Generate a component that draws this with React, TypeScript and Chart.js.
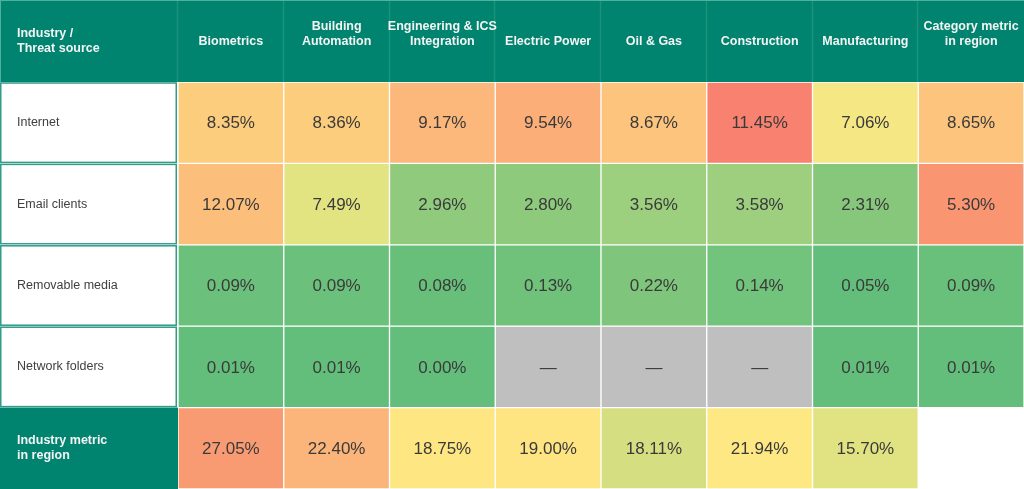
import React, { useEffect, useRef } from "react";
import { Chart, registerables } from "chart.js";

Chart.register(...registerables);

// ---- data ----
const columnLabels: (string | string[])[] = [
  "Biometrics",
  ["Building", "Automation"],
  ["Engineering & ICS", "Integration"],
  "Electric Power",
  "Oil & Gas",
  "Construction",
  "Manufacturing",
  ["Category metric", "in region"],
];
const rowLabels: (string | string[])[] = [
  "Internet",
  "Email clients",
  "Removable media",
  "Network folders",
  ["Industry metric", "in region"],
];
const cornerLabel = ["Industry /", "Threat source"];

const internet = [8.35, 8.36, 9.17, 9.54, 8.67, 11.45, 7.06, 8.65];
const emailClients = [12.07, 7.49, 2.96, 2.8, 3.56, 3.58, 2.31, 5.3];
const removableMedia = [0.09, 0.09, 0.08, 0.13, 0.22, 0.14, 0.05, 0.09];
const networkFolders: (number | null)[] = [0.01, 0.01, 0.0, null, null, null, 0.01, 0.01];
const industryMetric: (number | null)[] = [27.05, 22.4, 18.75, 19.0, 18.11, 21.94, 15.7, null];

const rows: (number | null)[][] = [internet, emailClients, removableMedia, networkFolders, industryMetric];
// which cells are drawn (the footer's last cell is empty)
const cellPresent: boolean[][] = [
  [true, true, true, true, true, true, true, true],
  [true, true, true, true, true, true, true, true],
  [true, true, true, true, true, true, true, true],
  [true, true, true, true, true, true, true, true],
  [true, true, true, true, true, true, true, false],
];

// ---- styles ----
const cellColors: string[][] = [
  ["#FDCD7E", "#FDCD7E", "#FCB77A", "#FBAE78", "#FDC47D", "#F8816F", "#F5E784", "#FCC47D"],
  ["#FCBE7B", "#E2E482", "#90CB7D", "#8DCA7C", "#9CCF7E", "#9DCF7E", "#87C77C", "#F99571"],
  ["#6BC17B", "#6BC17B", "#67BF7A", "#70C27B", "#7FC67C", "#72C37C", "#63BE7B", "#69C07B"],
  ["#63BE7B", "#63BE7B", "#63BE7B", "#BFBFBF", "#BFBFBF", "#BFBFBF", "#63BE7B", "#63BE7B"],
  ["#F99B72", "#FBB57A", "#FEE783", "#FEE582", "#D5DF81", "#FDE883", "#E1E383", "#FFFFFF"],
];
const TEAL = "#00846F";
const TEAL_LINE = "#2E9C88";
const TEAL_LIGHT = "#4DB19D";
const FONT = "'Liberation Sans', Arial, sans-serif";

const tablePlugin = {
  id: "tableDecor",
  beforeDraw(chart: any) {
    const { ctx, scales, chartArea, width } = chart;
    const x = scales.x;
    const y = scales.y;
    ctx.save();
    // header background
    ctx.fillStyle = TEAL;
    ctx.fillRect(0, 0, width, chartArea.top);
    // header column separators
    const half = (x.getPixelForValue(1) - x.getPixelForValue(0)) / 2;
    ctx.strokeStyle = "#1A937D";
    ctx.lineWidth = 1.5;
    for (let i = 0; i < columnLabels.length; i++) {
      const px = Math.round(x.getPixelForValue(i) - half) - 0.5;
      ctx.beginPath();
      ctx.moveTo(px, 1);
      ctx.lineTo(px, chartArea.top);
      ctx.stroke();
    }
    // top and left outer line
    ctx.strokeStyle = TEAL_LIGHT;
    ctx.lineWidth = 1;
    ctx.beginPath();
    ctx.moveTo(0, 0.5);
    ctx.lineTo(width, 0.5);
    ctx.moveTo(0.5, 0);
    ctx.lineTo(0.5, chartArea.top);
    ctx.stroke();
    // label column cells
    const labelRight = chartArea.left - 1;
    for (let r = 0; r < rowLabels.length; r++) {
      const top = y.getPixelForValue(r - 0.5);
      const bottom = y.getPixelForValue(r + 0.5);
      if (r === rowLabels.length - 1) {
        ctx.fillStyle = TEAL;
        ctx.fillRect(0, top, labelRight + 1, bottom - top);
      } else {
        ctx.fillStyle = "#FFFFFF";
        ctx.fillRect(0, top, labelRight, bottom - top);
        ctx.strokeStyle = TEAL_LINE;
        ctx.lineWidth = 1.5;
        ctx.strokeRect(0.75, top + 1, labelRight - 1.5, bottom - top - 2);
      }
    }
    // corner header text
    ctx.fillStyle = "#F4F4F4";
    ctx.font = `bold 12.5px ${FONT}`;
    ctx.textAlign = "left";
    ctx.textBaseline = "middle";
    const mid = chartArea.top / 2;
    ctx.fillText(cornerLabel[0], 17, mid - 7.5);
    ctx.fillText(cornerLabel[1], 17, mid + 7.5);
    ctx.restore();
  },
  afterDatasetsDraw(chart: any) {
    const { ctx } = chart;
    ctx.save();
    ctx.fillStyle = "#3A3A3A";
    ctx.font = `17px ${FONT}`;
    ctx.textAlign = "center";
    ctx.textBaseline = "middle";
    chart.data.datasets.forEach((ds: any, r: number) => {
      const meta = chart.getDatasetMeta(r);
      meta.data.forEach((el: any, c: number) => {
        if (!cellPresent[r][c]) return;
        const { x, y, base } = el.getProps(["x", "y", "base"], true);
        const v = rows[r][c];
        const text = v == null ? "—" : v.toFixed(2) + "%";
        ctx.fillText(text, x, (y + base) / 2 + 1);
      });
    });
    ctx.restore();
  },
};

export default function App() {
  const canvasRef = useRef<HTMLCanvasElement | null>(null);

  useEffect(() => {
    if (!canvasRef.current) return;
    Chart.defaults.font.family = FONT;
    const chart = new Chart(canvasRef.current, {
      type: "bar",
      data: {
        labels: columnLabels as any,
        datasets: rows.map((row, r) => ({
          label: Array.isArray(rowLabels[r]) ? (rowLabels[r] as string[]).join(" ") : (rowLabels[r] as string),
          data: row.map((_, c) => (cellPresent[r][c] ? [r - 0.5, r + 0.5] : null)) as any,
          backgroundColor: cellColors[r],
          borderColor: "#FFFFFF",
          borderWidth: 1,
          borderSkipped: false,
          barPercentage: 1,
          categoryPercentage: 1,
          grouped: false,
        })),
      },
      options: {
        animation: false,
        responsive: true,
        maintainAspectRatio: false,
        layout: { padding: { left: 17, top: 0, right: 0, bottom: 0 } },
        plugins: { legend: { display: false }, tooltip: { enabled: false } },
        scales: {
          x: {
            type: "category",
            position: "top",
            offset: true,
            grid: { display: false, drawTicks: false },
            border: { display: false },
            ticks: {
              padding: 33,
              color: "#F4F4F4",
              font: { size: 12.5, weight: "bold", lineHeight: 1.2 },
              maxRotation: 0,
              minRotation: 0,
              autoSkip: false,
            },
            afterFit: (s: any) => {
              s.height = 82;
              s.paddingLeft = 0;
              s.paddingRight = 0;
              s.paddingTop = 0;
              s.paddingBottom = 0;
            },
          },
          y: {
            type: "linear",
            reverse: true,
            min: -0.5,
            max: rowLabels.length - 0.5,
            grid: { display: false, drawTicks: false },
            border: { display: false },
            afterBuildTicks: (s: any) => {
              s.ticks = rowLabels.map((_, i) => ({ value: i }));
            },
            ticks: {
              crossAlign: "far",
              padding: 0,
              autoSkip: false,
              callback: (v: any) => rowLabels[v as number] as any,
              color: (ctx: any) => (ctx.index === rowLabels.length - 1 ? "#F4F4F4" : "#404040"),
              font: (ctx: any) =>
                ctx.index === rowLabels.length - 1
                  ? { size: 12.5, weight: "bold", lineHeight: 1.2 }
                  : { size: 12.5, weight: "normal", lineHeight: 1.2 },
            },
            afterFit: (s: any) => {
              s.width = 161;
              s.paddingLeft = 0;
              s.paddingRight = 0;
              s.paddingTop = 0;
              s.paddingBottom = 0;
            },
          },
        },
      } as any,
      plugins: [tablePlugin],
    });
    return () => chart.destroy();
  }, []);

  return (
    <div style={{ position: "fixed", left: 0, top: 0, width: 1024, height: 489, background: "#FFFFFF" }}>
      <canvas ref={canvasRef} />
    </div>
  );
}
